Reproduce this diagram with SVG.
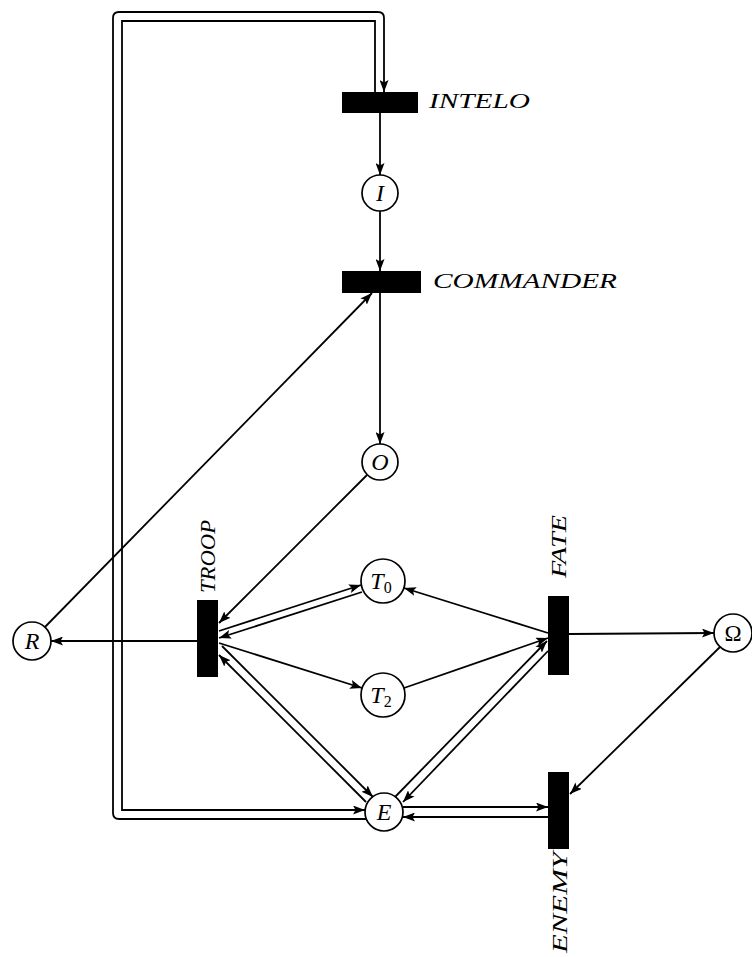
<svg xmlns="http://www.w3.org/2000/svg" width="752" height="957" viewBox="0 0 752 957">
<style>
.bar{fill:#000}
.pl{fill:#fff;stroke:#000;stroke-width:1.7}
.ln{fill:none;stroke:#000;stroke-width:1.8}
.t{font-family:"Liberation Serif","Times New Roman",serif;font-style:italic;font-size:22px;fill:#000}
.c{font-family:"Liberation Serif","Times New Roman",serif;font-style:italic;font-size:24px;fill:#000}
.u{font-family:"Liberation Serif","Times New Roman",serif;font-size:23px;fill:#000}
</style>
<defs>
<marker id="ah" viewBox="0 0 12 9" refX="12" refY="4.5" markerWidth="12" markerHeight="9" markerUnits="userSpaceOnUse" orient="auto">
<path d="M0,0 L12,4.5 L0,9 L2.5,4.5 Z" fill="#000"/>
</marker>
</defs>
<rect width="752" height="957" fill="#fff"/>
<g id="connectors">
<path class="ln" d="M367 819 H119 Q113 819 113 813 V18 Q113 12 119 12 H378 Q384 12 384 18 V92" marker-end="url(#ah)"/>
<path class="ln" d="M375 92 V21 H122 V810 H365" marker-end="url(#ah)"/>
<line class="ln" x1="380" y1="113" x2="380" y2="175" marker-end="url(#ah)"/>
<line class="ln" x1="380" y1="211" x2="380" y2="271" marker-end="url(#ah)"/>
<line class="ln" x1="380" y1="293" x2="380" y2="444" marker-end="url(#ah)"/>
<line class="ln" x1="45" y1="627" x2="372" y2="293" marker-end="url(#ah)"/>
<line class="ln" x1="367" y1="475" x2="219" y2="623" marker-end="url(#ah)"/>
<line class="ln" x1="219" y1="631" x2="361" y2="585" marker-end="url(#ah)"/>
<line class="ln" x1="362" y1="592" x2="219" y2="638" marker-end="url(#ah)"/>
<line class="ln" x1="197" y1="641" x2="51" y2="641" marker-end="url(#ah)"/>
<line class="ln" x1="219" y1="643" x2="362" y2="688" marker-end="url(#ah)"/>
<line class="ln" x1="366" y1="802" x2="219" y2="655" marker-end="url(#ah)"/>
<line class="ln" x1="222" y1="646" x2="373" y2="797" marker-end="url(#ah)"/>
<line class="ln" x1="548" y1="633" x2="404" y2="588" marker-end="url(#ah)"/>
<line class="ln" x1="404" y1="688" x2="548" y2="638" marker-end="url(#ah)"/>
<line class="ln" x1="395" y1="797" x2="547" y2="641" marker-end="url(#ah)"/>
<line class="ln" x1="548" y1="651" x2="403" y2="802" marker-end="url(#ah)"/>
<line class="ln" x1="569" y1="634" x2="714" y2="633" marker-end="url(#ah)"/>
<line class="ln" x1="720" y1="647" x2="570" y2="794" marker-end="url(#ah)"/>
<line class="ln" x1="403" y1="807" x2="548" y2="807" marker-end="url(#ah)"/>
<line class="ln" x1="548" y1="817" x2="403" y2="817" marker-end="url(#ah)"/>
</g>
<g id="INTELO"><rect class="bar" x="342" y="92" width="76" height="21"/><text class="t" x="429" y="108" textLength="101" lengthAdjust="spacingAndGlyphs">INTELO</text></g>
<g id="COMMANDER"><rect class="bar" x="342" y="271" width="79" height="22"/><text class="t" x="433" y="288" textLength="184" lengthAdjust="spacingAndGlyphs">COMMANDER</text></g>
<g id="TROOP"><rect class="bar" x="197" y="600" width="21" height="77"/><text class="t" transform="translate(215,593) rotate(-90)" textLength="73" lengthAdjust="spacingAndGlyphs">TROOP</text></g>
<g id="FATE"><rect class="bar" x="548" y="596" width="21" height="79"/><text class="t" transform="translate(566,578) rotate(-90)" textLength="63" lengthAdjust="spacingAndGlyphs">FATE</text></g>
<g id="ENEMY"><rect class="bar" x="548" y="772" width="21" height="77"/><text class="t" transform="translate(567,953) rotate(-90)" textLength="101" lengthAdjust="spacingAndGlyphs">ENEMY</text></g>
<g id="I"><circle class="pl" cx="380" cy="193" r="18"/><text class="c" x="380" y="201" text-anchor="middle">I</text></g>
<g id="O"><circle class="pl" cx="380" cy="462" r="18"/><text class="c" x="380" y="470" text-anchor="middle">O</text></g>
<g id="T0"><circle class="pl" cx="383" cy="581" r="22"/><text class="c" x="381" y="589" text-anchor="middle">T<tspan font-size="16" font-style="normal" dy="4">0</tspan></text></g>
<g id="T2"><circle class="pl" cx="383" cy="695" r="22"/><text class="c" x="381" y="703" text-anchor="middle">T<tspan font-size="16" font-style="normal" dy="4">2</tspan></text></g>
<g id="R"><circle class="pl" cx="32" cy="641" r="19"/><text class="c" x="32" y="649" text-anchor="middle">R</text></g>
<g id="E"><circle class="pl" cx="384" cy="812" r="19"/><text class="c" x="384" y="820" text-anchor="middle">E</text></g>
<g id="Omega"><circle class="pl" cx="733" cy="633" r="19"/><text class="u" x="733" y="641" text-anchor="middle">Ω</text></g>
</svg>
